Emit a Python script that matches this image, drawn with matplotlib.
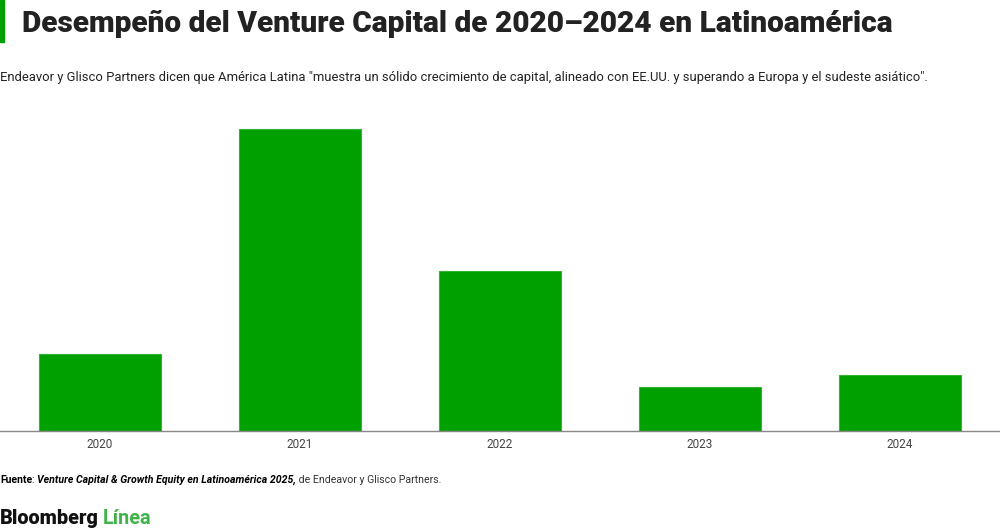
import matplotlib
matplotlib.use("Agg")
import matplotlib.pyplot as plt

# Valores estimados (miles de millones USD)
anios = ["2020", "2021", "2022", "2023", "2024"]
inversion = [4.0, 15.7, 8.3, 2.3, 2.9]

verde_barra = "#00a000"
verde_logo = "#3fb24a"
texto_oscuro = "#222222"

plt.rcParams["font.family"] = ["Roboto", "DejaVu Sans"]

fig = plt.figure(figsize=(10, 5.28), dpi=100)
fig.patch.set_facecolor("white")
r = fig.canvas.get_renderer()


def ajustar(t, ancho_px):
    # escala la fuente para que el texto ocupe el ancho deseado
    w = t.get_window_extent(r).width
    t.set_fontsize(t.get_fontsize() * ancho_px / w)


# franja verde junto al titulo
fig.patches.append(plt.Rectangle((0, 1 - 42 / 528), 4 / 1000, 42 / 528,
                                 transform=fig.transFigure, color=verde_barra))

titulo = fig.text(0.022, 1 - 24 / 528, "Desempeño del Venture Capital de 2020–2024 en Latinoamérica",
                  fontsize=22, fontweight="heavy", color=texto_oscuro, va="center", ha="left")
ajustar(titulo, 868)
sub = fig.text(0.0, 1 - 78 / 528,
               'Endeavor y Glisco Partners dicen que América Latina "muestra un sólido crecimiento de capital, '
               'alineado con EE.UU. y superando a Europa y el sudeste asiático".',
               fontsize=9.5, color=texto_oscuro, va="center", ha="left")
ajustar(sub, 932)

ax = fig.add_axes([0.0, 1 - 431 / 528, 1.0, 321 / 528])
x = range(len(anios))
ax.bar(x, inversion, width=0.61, color=verde_barra, edgecolor="#33b233", linewidth=0.8)
ax.set_xlim(-0.5, len(anios) - 0.5)
ax.set_ylim(0, 15.7 * 321 / 302)
ax.set_xticks(list(x))
ax.set_xticklabels(anios, fontsize=8.5, color="#444444")
ax.tick_params(axis="x", length=0, pad=5)
ax.set_yticks([])
for lado in ["top", "left", "right"]:
    ax.spines[lado].set_visible(False)
ax.spines["bottom"].set_color("#888888")
ax.spines["bottom"].set_linewidth(1)

# linea de fuente armada por tramos
y_f = 1 - 480 / 528
tramos = [("Fuente", dict(fontweight="bold", color="black")),
          (": ", dict(color="black")),
          ("Venture Capital & Growth Equity en Latinoamérica 2025,",
           dict(fontweight="bold", fontstyle="italic", color="black")),
          (" de Endeavor y Glisco Partners.", dict(color="#333333"))]
tam_f = 7.6
x0 = 0.0
for s, kw in tramos:
    t = fig.text(x0, y_f, s, fontsize=tam_f, va="center", ha="left", **kw)
    x0 = t.get_window_extent(r).x1 / 1000

b = fig.text(0.0, 1 - 518 / 528, "Bloomberg", fontsize=14, fontweight="heavy", color="#111111",
             va="center", ha="left")
ajustar(b, 99)
bb = b.get_window_extent(r)
fig.text(bb.x1 / 1000 + 0.004, 1 - 518 / 528, "Línea", fontsize=b.get_fontsize(), fontweight="bold",
         color=verde_logo, va="center", ha="left")

fig.savefig("out.png", dpi=100)
